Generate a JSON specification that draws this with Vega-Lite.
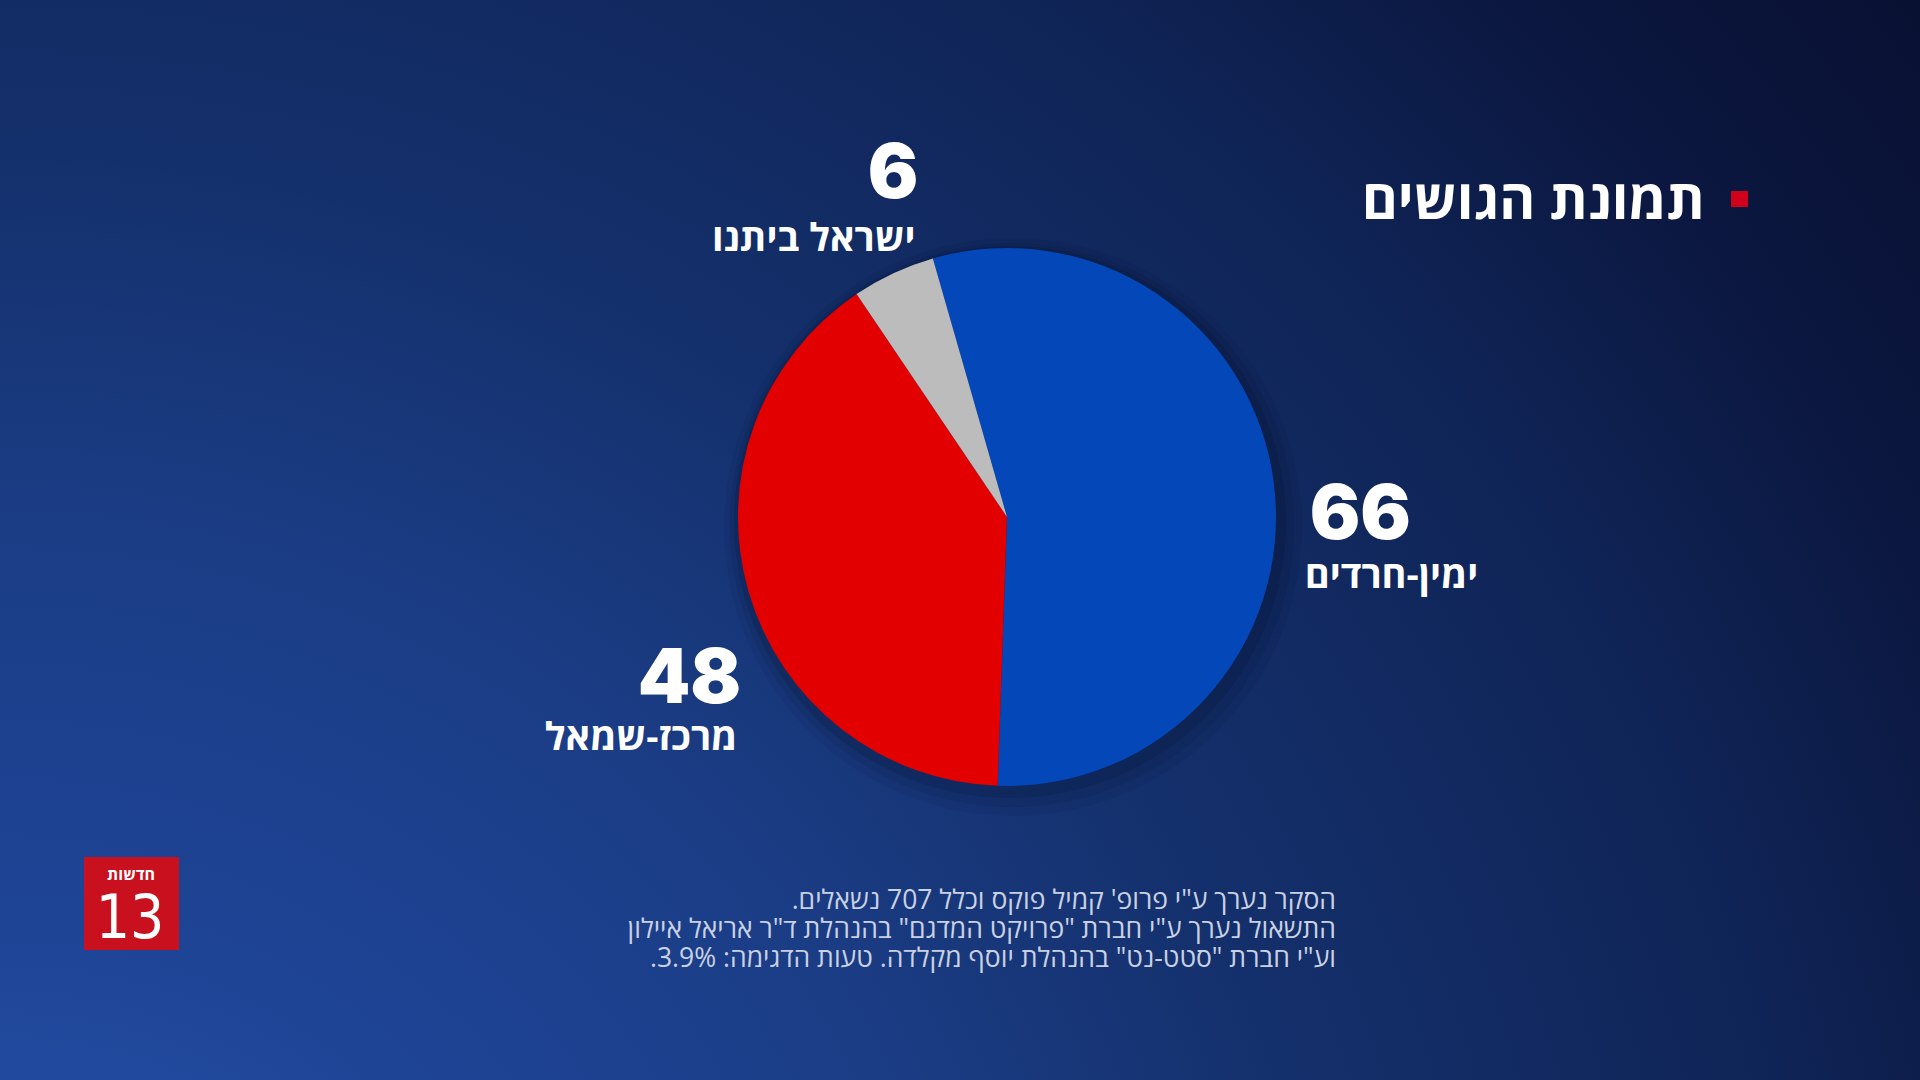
{
  "$schema": "https://vega.github.io/schema/vega-lite/v6.json",
  "width": 1920,
  "height": 1080,
  "autosize": {"type": "fit", "contains": "padding"},
  "padding": 0,
  "background": "#0d1b4a",
  "view": {
    "stroke": null,
    "fill": {
      "gradient": "radial",
      "x1": 0, "y1": 1, "r1": 0, "x2": 0, "y2": 1, "r2": 1.4,
      "stops": [
        {"offset": 0, "color": "#2b5cb6"},
        {"offset": 0.21, "color": "#1e4496"},
        {"offset": 0.36, "color": "#1b3d86"},
        {"offset": 0.5, "color": "#14306c"},
        {"offset": 0.68, "color": "#0f2456"},
        {"offset": 0.79, "color": "#0b1740"},
        {"offset": 0.96, "color": "#080e2c"},
        {"offset": 1, "color": "#080d2a"}
      ]
    }
  },
  "datasets": {
    "blocs": [
      {"key": "right", "bloc": "ימין-חרדים", "seats": 66, "order": 1},
      {"key": "left", "bloc": "מרכז-שמאל", "seats": 48, "order": 2},
      {"key": "yb", "bloc": "ישראל ביתנו", "seats": 6, "order": 3}
    ],
    "one": [{"note": "x"}]
  },
  "layer": [
    {
      "data": {"name": "one"},
      "mark": {"type": "arc", "x": 1013, "y": 527, "theta": 0, "theta2": 6.2832, "outerRadius": 289, "fill": "#03081c", "opacity": 0.06},
      "encoding": {}
    },
    {
      "data": {"name": "one"},
      "mark": {"type": "arc", "x": 1012, "y": 525, "theta": 0, "theta2": 6.2832, "outerRadius": 282, "fill": "#03081c", "opacity": 0.08},
      "encoding": {}
    },
    {
      "data": {"name": "one"},
      "mark": {"type": "arc", "x": 1010, "y": 522, "theta": 0, "theta2": 6.2832, "outerRadius": 276, "fill": "#03081c", "opacity": 0.12},
      "encoding": {}
    },
    {
      "data": {"name": "blocs"},
      "mark": {"type": "arc", "x": 1007, "y": 517, "outerRadius": 269},
      "encoding": {
        "theta": {"field": "seats", "type": "quantitative", "stack": true, "scale": {"range": [-0.2793, 6.0039]}},
        "order": {"field": "order", "type": "quantitative"},
        "color": {
          "field": "key", "type": "nominal", "legend": null,
          "scale": {"domain": ["right", "left", "yb"], "range": ["#0447b9", "#e30000", "#bcbcbc"]}
        }
      }
    },
    {
      "data": {"name": "blocs"},
      "mark": {"type": "text", "x": 1007, "y": 517, "radius": 300, "align": "left", "baseline": "alphabetic", "dx": 5, "dy": 59, "font": "Inter", "fontWeight": 900, "fontSize": 75, "fill": "white"},
      "encoding": {
        "theta": {"field": "seats", "type": "quantitative", "stack": true},
        "order": {"field": "order", "type": "quantitative"},
        "text": {"condition": {"test": "datum.key === 'right'", "field": "seats"}, "value": ""}
      }
    },
    {
      "data": {"name": "blocs"},
      "mark": {"type": "text", "x": 1007, "y": 517, "radius": 300, "align": "left", "baseline": "alphabetic", "dx": 0, "dy": 108, "font": "Open Sans, Liberation Sans, DejaVu Sans", "fontWeight": "bold", "fontSize": 38, "fill": "white"},
      "encoding": {
        "theta": {"field": "seats", "type": "quantitative", "stack": true},
        "order": {"field": "order", "type": "quantitative"},
        "text": {"condition": {"test": "datum.key === 'right'", "field": "bloc"}, "value": ""}
      }
    },
    {
      "data": {"name": "blocs"},
      "mark": {"type": "text", "x": 1007, "y": 517, "radius": 290, "align": "right", "baseline": "alphabetic", "dx": 13, "dy": 106, "font": "Inter", "fontWeight": 900, "fontSize": 75, "fill": "white"},
      "encoding": {
        "theta": {"field": "seats", "type": "quantitative", "stack": true},
        "order": {"field": "order", "type": "quantitative"},
        "text": {"condition": {"test": "datum.key === 'left'", "field": "seats"}, "value": ""}
      }
    },
    {
      "data": {"name": "blocs"},
      "mark": {"type": "text", "x": 1007, "y": 517, "radius": 290, "align": "right", "baseline": "alphabetic", "dx": 9, "dy": 153, "font": "Open Sans, Liberation Sans, DejaVu Sans", "fontWeight": "bold", "fontSize": 38, "fill": "white"},
      "encoding": {
        "theta": {"field": "seats", "type": "quantitative", "stack": true},
        "order": {"field": "order", "type": "quantitative"},
        "text": {"condition": {"test": "datum.key === 'left'", "field": "bloc"}, "value": ""}
      }
    },
    {
      "data": {"name": "blocs"},
      "mark": {"type": "text", "x": 1007, "y": 517, "radius": 290, "align": "right", "baseline": "alphabetic", "dx": 34, "dy": -56, "font": "Inter", "fontWeight": 900, "fontSize": 75, "fill": "white"},
      "encoding": {
        "theta": {"field": "seats", "type": "quantitative", "stack": true},
        "order": {"field": "order", "type": "quantitative"},
        "text": {"condition": {"test": "datum.key === 'yb'", "field": "seats"}, "value": ""}
      }
    },
    {
      "data": {"name": "blocs"},
      "mark": {"type": "text", "x": 1007, "y": 517, "radius": 290, "align": "right", "baseline": "alphabetic", "dx": 31, "dy": -3, "font": "Open Sans, Liberation Sans, DejaVu Sans", "fontWeight": "bold", "fontSize": 38, "fill": "white"},
      "encoding": {
        "theta": {"field": "seats", "type": "quantitative", "stack": true},
        "order": {"field": "order", "type": "quantitative"},
        "text": {"condition": {"test": "datum.key === 'yb'", "field": "bloc"}, "value": ""}
      }
    },
    {
      "data": {"values": [{"title": "תמונת הגושים"}]},
      "mark": {"type": "text", "x": 1705, "y": 219, "align": "right", "baseline": "alphabetic", "font": "Open Sans, Liberation Sans, DejaVu Sans", "fontWeight": "bold", "fontSize": 55, "fill": "white"},
      "encoding": {"text": {"field": "title"}}
    },
    {
      "data": {"name": "one"},
      "mark": {"type": "rect", "x": 1731, "x2": 1748, "y": 191, "y2": 207, "fill": "#d0021b"},
      "encoding": {}
    },
    {
      "data": {"values": [{"l1": "‫הסקר נערך ע\"י פרופ' קמיל פוקס וכלל 707 נשאלים.‬", "l2": "‫התשאול נערך ע\"י חברת \"פרויקט המדגם\" בהנהלת ד\"ר אריאל איילון‬", "l3": "‫וע\"י חברת \"סטט-נט\" בהנהלת יוסף מקלדה. טעות הדגימה: 3.9%.‬"}]},
      "mark": {"type": "text", "x": 1336, "y": 909, "align": "right", "baseline": "alphabetic", "lineHeight": 29, "font": "Open Sans, Liberation Sans, DejaVu Sans", "fontSize": 26.5, "fill": "#c9d1e3"},
      "encoding": {"text": {"value": {"expr": "[datum.l1, datum.l2, datum.l3]"}}}
    },
    {
      "data": {"name": "one"},
      "mark": {"type": "rect", "x": 84, "x2": 179, "y": 857, "y2": 950, "fill": "#c8101e"},
      "encoding": {}
    },
    {
      "data": {"values": [{"t": "חדשות"}]},
      "mark": {"type": "text", "x": 131, "y": 880, "align": "center", "baseline": "alphabetic", "font": "Open Sans, Liberation Sans, DejaVu Sans", "fontWeight": "bold", "fontSize": 16, "fill": "white"},
      "encoding": {"text": {"field": "t"}}
    },
    {
      "data": {"values": [{"t": "13"}]},
      "mark": {"type": "text", "x": 130, "y": 938, "align": "center", "baseline": "alphabetic", "font": "DejaVu Sans Condensed, Liberation Sans Narrow, DejaVu Sans", "fontWeight": "normal", "fontSize": 60, "fill": "white"},
      "encoding": {"text": {"field": "t"}}
    }
  ]
}
